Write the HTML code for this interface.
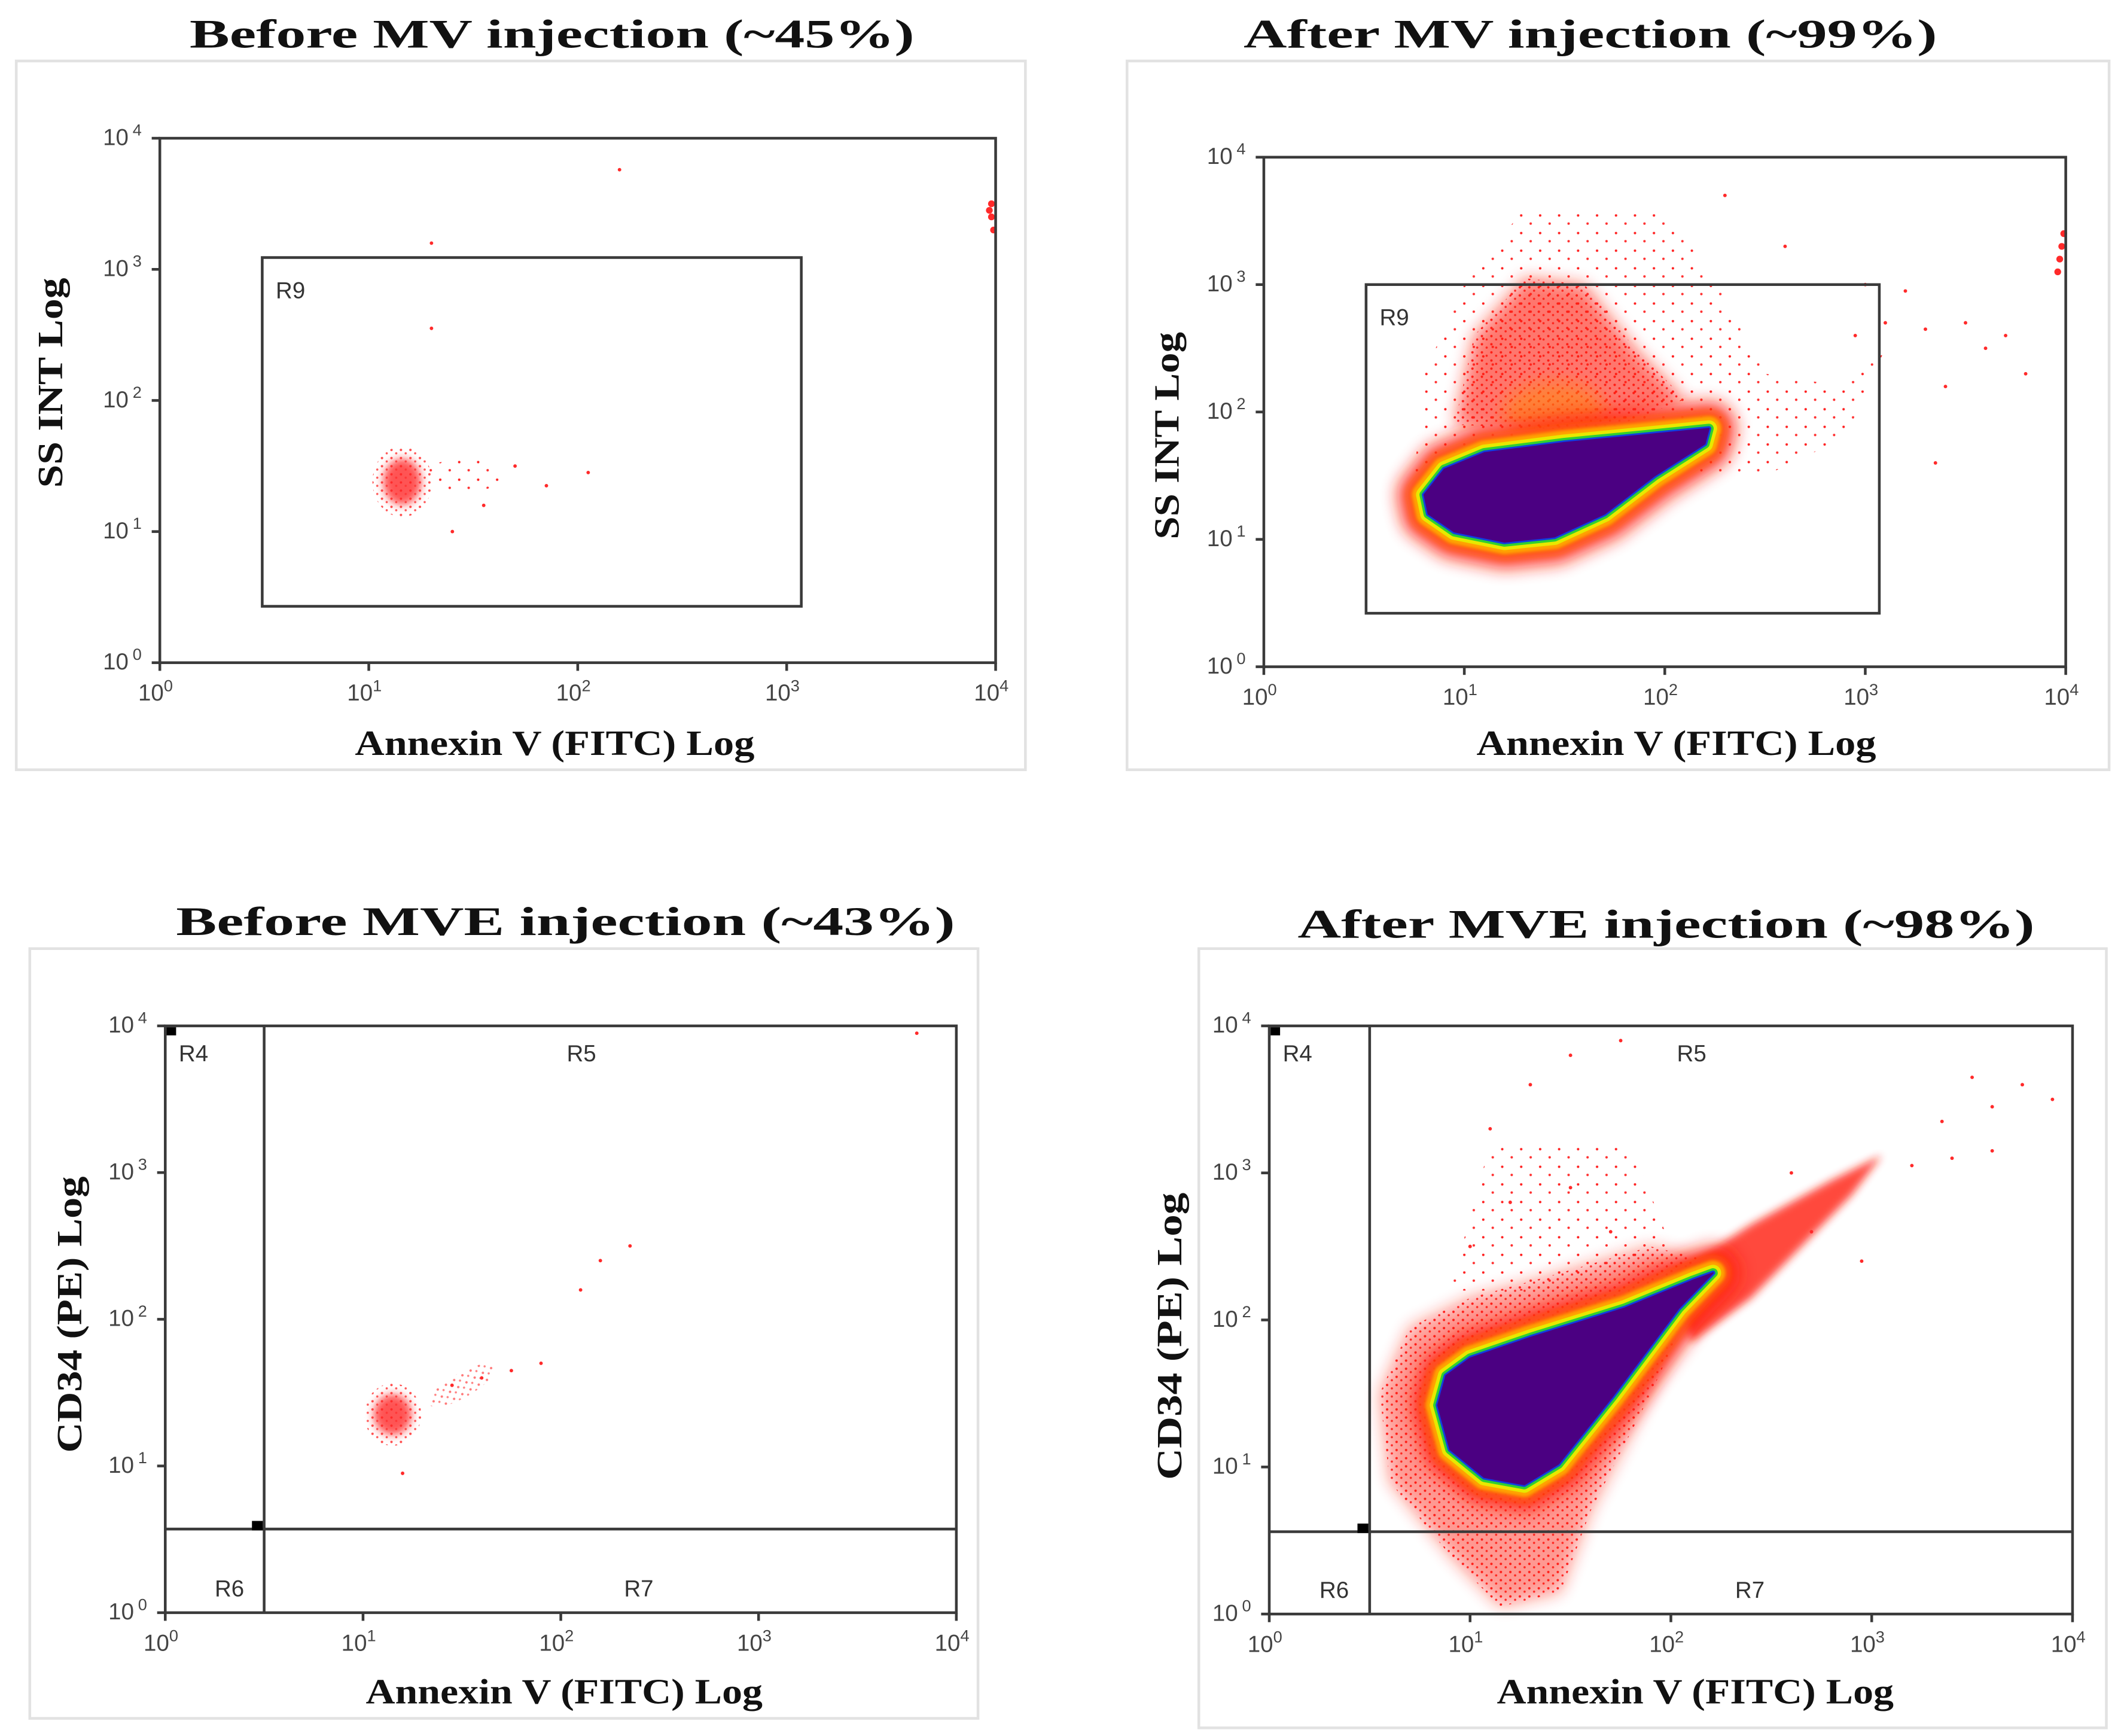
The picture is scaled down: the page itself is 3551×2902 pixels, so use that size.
<!DOCTYPE html>
<html><head><meta charset="utf-8"><style>
html,body{margin:0;padding:0;background:#fff;}
svg{display:block;}
.t{font-family:"Liberation Serif",serif;font-weight:bold;fill:#111;}
.k{font-family:"Liberation Sans",sans-serif;fill:#444;font-size:17px;}
.g{font-family:"Liberation Sans",sans-serif;fill:#333;font-size:17px;}
</style></head><body>
<svg id="fig" xmlns="http://www.w3.org/2000/svg" width="3551" height="2902" viewBox="0 0 1568 1281" preserveAspectRatio="none">
<defs>
<filter id="b3" x="-50%" y="-50%" width="200%" height="200%"><feGaussianBlur stdDeviation="3"/></filter>
<filter id="b6" x="-50%" y="-50%" width="200%" height="200%"><feGaussianBlur stdDeviation="6"/></filter>
<filter id="b1" x="-50%" y="-50%" width="200%" height="200%"><feGaussianBlur stdDeviation="1.2"/></filter>
<pattern id="dots" width="7" height="6" patternUnits="userSpaceOnUse"><circle cx="2" cy="2" r="0.9" fill="#ff2020"/><circle cx="5.5" cy="4.5" r="0.8" fill="#ff3030"/></pattern>
<pattern id="sparse" width="14" height="13" patternUnits="userSpaceOnUse"><circle cx="3" cy="3" r="0.9" fill="#ff2020"/><circle cx="10" cy="9" r="0.9" fill="#ff3030"/></pattern>
</defs>
</svg>
<script>
// ---- data (log10 decade coordinates) ----
const ticks=[0,1,2,3,4];
const titles=["Before MV injection (~45%)","After MV injection (~99%)","Before MVE injection  (~43%)","After MVE injection  (~98%)"];
const yTitles=["SS INT Log","SS INT Log","CD34 (PE) Log","CD34 (PE) Log"];
// panel 1
const p1Cluster=[1.16,1.38];
const p1Outliers=[[1.3,3.2],[2.2,3.76],[1.3,2.55],[1.7,1.5],[2.05,1.45],[1.55,1.2],[1.4,1.0],[1.85,1.35]];
const p1Edge=[[3.98,3.4],[3.98,3.5],[3.99,3.3],[3.97,3.45]];
// panel 2
const p2Purple=[[0.8,1.35],[0.9,1.55],[1.1,1.68],[1.5,1.76],[1.9,1.82],[2.22,1.87],[2.2,1.75],[1.95,1.5],[1.7,1.2],[1.45,1.02],[1.2,0.98],[0.95,1.06],[0.82,1.2]];
const p2Cloud=[[0.75,1.5],[0.8,2.3],[1.0,3.0],[1.3,3.6],[2.0,3.6],[2.3,2.9],[2.5,2.3],[2.9,2.2],[3.1,2.5],[2.9,1.8],[2.5,1.5],[1.5,1.5]];
const p2Core=[[0.95,1.9],[1.05,2.6],[1.3,3.05],[1.6,3.0],[1.85,2.5],[2.1,2.1],[1.7,1.85]];
const p2Outliers=[[2.95,2.6],[3.1,2.7],[3.3,2.65],[3.4,2.2],[3.6,2.5],[3.8,2.3],[3.5,2.7],[3.2,2.95],[2.6,3.3],[2.3,3.7],[3.7,2.6],[3.0,3.0],[3.35,1.6]];
const p2Edge=[[3.98,3.3],[3.97,3.2],[3.99,3.4],[3.96,3.1]];
// panel 3
const p3Cluster=[1.15,1.35];
const p3Outliers=[[1.6,1.6],[1.75,1.65],[1.45,1.55],[1.9,1.7],[1.2,0.95],[2.2,2.4],[2.35,2.5],[2.1,2.2],[3.8,3.95]];
// panel 4
const p4Purple=[[0.84,1.42],[0.88,1.62],[1.0,1.74],[1.3,1.88],[1.77,2.08],[2.11,2.27],[2.21,2.32],[2.04,2.08],[1.71,1.48],[1.44,1.02],[1.27,0.88],[1.07,0.93],[0.9,1.12]];
const p4Tail=[[2.0,2.3],[2.4,2.65],[2.8,2.95],[3.05,3.12],[2.9,2.85],[2.4,2.15],[2.1,1.85]];
const p4Cloud=[[0.55,1.5],[0.7,1.95],[1.0,2.15],[1.4,2.3],[1.9,2.5],[2.2,2.4],[1.9,1.5],[1.6,0.7],[1.45,0.15],[1.15,0.05],[0.9,0.4],[0.6,0.9]];
const p4Scatter=[[0.9,2.2],[1.1,3.2],[1.8,3.2],[2.0,2.5],[1.3,2.2]];
const p4Outliers=[[1.1,3.3],[1.3,3.6],[1.5,3.8],[1.75,3.9],[3.35,3.35],[3.6,3.45],[3.75,3.6],[3.9,3.5],[3.5,3.65],[3.2,3.05],[3.4,3.1],[2.7,2.6],[2.95,2.4],[2.6,3.0],[3.6,3.15],[1.2,2.8],[1.5,2.9],[1.7,2.6],[1.0,2.5]];

const NS="http://www.w3.org/2000/svg";
const fig=document.getElementById('fig');
function mk(tag,attrs,parent){const e=document.createElementNS(NS,tag);for(const k in attrs)e.setAttribute(k,attrs[k]);(parent||fig).appendChild(e);return e;}

const panels=[
 {frame:[12,45,745,523],ax:[118,735,489,102],title:[140,675,35],xt:[262,557,557],yt:[38,205,360]},
 {frame:[832,45,725,523],ax:[933,1525,492,116],title:[918,1430,35],xt:[1090,1385,557],yt:[862,245,398]},
 {frame:[22,700,700,568],ax:[122,706,1190,757],title:[130,705,690],xt:[270,563,1257],yt:[52,868,1072]},
 {frame:[885,700,670,575],ax:[937,1530,1191,757],title:[958,1502,692],xt:[1105,1398,1257],yt:[864,880,1092]}
];
function sx(p,v){const a=p.ax;return a[0]+(a[1]-a[0])*v/4;}
function sy(p,v){const a=p.ax;return a[2]-(a[2]-a[3])*v/4;}
function pts(p,arr){return arr.map(d=>sx(p,d[0]).toFixed(1)+','+sy(p,d[1]).toFixed(1)).join(' ');}
function dots(p,arr,g,r){arr.forEach(d=>{const c=mk('circle',{cx:sx(p,d[0]),cy:sy(p,d[1]),r:r||1.3,fill:'#ff2a2a'},g);

});}

panels.forEach((p,i)=>{
 const g=mk('g',{});
 
 
 const f=p.frame;
 const fr=mk('rect',{x:f[0],y:f[1],width:f[2],height:f[3],fill:'#fff',stroke:'#e2e2e2','stroke-width':2},g);
 
 
 const t=mk('text',{x:p.title[0],y:p.title[2],class:'t','font-size':30,textLength:p.title[1]-p.title[0],lengthAdjust:'spacingAndGlyphs'},g);
 t.textContent=titles[i];
 
 
 const xt=mk('text',{x:p.xt[0],y:p.xt[2],class:'t','font-size':26,textLength:p.xt[1]-p.xt[0],lengthAdjust:'spacingAndGlyphs'},g);
 xt.textContent="Annexin V (FITC) Log";
 
 
 const yt=mk('text',{x:0,y:0,class:'t','font-size':26,textLength:p.yt[2]-p.yt[1],lengthAdjust:'spacingAndGlyphs',transform:`translate(${p.yt[0]+8},${p.yt[2]}) rotate(-90)`},g);
 yt.textContent=yTitles[i];
 
 
 const data=mk('g',{},g);
 
 
 if(i===0){
  mk('ellipse',{cx:sx(p,p1Cluster[0]),cy:sy(p,p1Cluster[1]),rx:14,ry:17,fill:'#ff1a1a',opacity:0.75,filter:'url(#b3)'},data);
  mk('ellipse',{cx:sx(p,p1Cluster[0]),cy:sy(p,p1Cluster[1]),rx:22,ry:26,fill:'url(#dots)',opacity:0.8},data);
  mk('ellipse',{cx:sx(p,p1Cluster[0]+0.3),cy:sy(p,p1Cluster[1]+0.05),rx:30,ry:12,fill:'url(#sparse)'},data);
  dots(p,p1Outliers,data);
  dots(p,p1Edge,data,2.5);
 }
 if(i===2){
  mk('ellipse',{cx:sx(p,p3Cluster[0]),cy:sy(p,p3Cluster[1]),rx:14,ry:15,fill:'#ff1a1a',opacity:0.75,filter:'url(#b3)'},data);
  mk('ellipse',{cx:sx(p,p3Cluster[0]),cy:sy(p,p3Cluster[1]),rx:21,ry:23,fill:'url(#dots)',opacity:0.8},data);
  mk('ellipse',{cx:sx(p,p3Cluster[0]+0.35),cy:sy(p,p3Cluster[1]+0.2),rx:28,ry:9,fill:'url(#dots)',opacity:0.6,transform:`rotate(-30 ${sx(p,p3Cluster[0]+0.35)} ${sy(p,p3Cluster[1]+0.2)})`},data);
  dots(p,p3Outliers,data);
 }
 if(i===1||i===3){
  const cloud=i===1?p2Cloud:p4Cloud, purple=i===1?p2Purple:p4Purple;
  if(i===1){
   mk('polygon',{points:pts(p,cloud),fill:'url(#sparse)'},data);
   mk('polygon',{points:pts(p,p2Core),fill:'url(#dots)'},data);
   mk('polygon',{points:pts(p,p2Core),fill:'#ff1a10',opacity:0.6,filter:'url(#b6)'},data);
   mk('ellipse',{cx:sx(p,1.45),cy:sy(p,2.0),rx:38,ry:22,fill:'#ff8a10',opacity:0.55,filter:'url(#b6)'},data);
  } else {
   mk('polygon',{points:pts(p,p4Scatter),fill:'url(#sparse)'},data);
   mk('polygon',{points:pts(p,cloud),fill:'url(#dots)'},data);
   mk('polygon',{points:pts(p,cloud),fill:'#ff1a10',opacity:0.45,filter:'url(#b6)'},data);
   mk('polygon',{points:pts(p,p4Tail),fill:'#ff1a10',opacity:0.8,filter:'url(#b3)'},data);
  }
  const P=pts(p,purple);
  [[40,'#ff1a10',0.8,'url(#b6)'],[26,'#ff5a10',0.9,'url(#b3)'],[18,'#ffa500',1,'url(#b1)'],[12,'#e8e800',1,''],[7,'#30d030',1,''],[3.5,'#1040e0',1,'']].forEach(s=>{
   const a={points:P,fill:s[1],stroke:s[1],'stroke-width':s[0],'stroke-linejoin':'round',opacity:s[2]};if(s[3])a.filter=s[3];
   mk('polygon',a,data);});
  const pp=mk('polygon',{points:P,fill:'#4b0082',stroke:'#4b0082','stroke-width':1,'stroke-linejoin':'round'},data);
  
  
  dots(p,i===1?p2Outliers:p4Outliers,data);
  if(i===1){dots(p,p2Edge,data,2.5);}
 }
 const a=p.ax;
 const box=mk('rect',{x:a[0],y:a[3],width:a[1]-a[0],height:a[2]-a[3],fill:'none',stroke:'#3a3a3a','stroke-width':2},g);
 
 
 ticks.forEach(v=>{
  const X=sx(p,v),Y=sy(p,v);
  mk('line',{x1:X,x2:X,y1:a[2],y2:a[2]+6,stroke:'#3a3a3a','stroke-width':2},g);
  mk('line',{x1:a[0]-6,x2:a[0],y1:Y,y2:Y,stroke:'#3a3a3a','stroke-width':2},g);
  const lx=mk('text',{x:X-16,y:a[2]+28,class:'k'},g);
  lx.innerHTML='10<tspan dy="-7" font-size="12">'+v+'</tspan>';
  
  
  const ly=mk('text',{x:a[0]-42,y:Y+5,class:'k'},g);
  ly.innerHTML='10<tspan dy="-7" font-size="12" dx="3">'+v+'</tspan>';
  
  
 });
 function gl(txt,x,y){const e=mk('text',{x:x,y:y,class:'g'},g);e.textContent=txt;
  
  }
 if(i<2){
  const r9=i===0?[0.49,3.07,0.43,3.09]:[0.51,3.07,0.42,3.0];
  const R=mk('rect',{x:sx(p,r9[0]),y:sy(p,r9[3]),width:sx(p,r9[1])-sx(p,r9[0]),height:sy(p,r9[2])-sy(p,r9[3]),fill:'none',stroke:'#3a3a3a','stroke-width':2},g);
  
  
  gl('R9',sx(p,r9[0])+10,sy(p,r9[3])+30);
 } else {
  const gx=0.5,gy=i===2?0.57:0.56;
  const v=mk('line',{x1:sx(p,gx),x2:sx(p,gx),y1:a[3],y2:a[2],stroke:'#3a3a3a','stroke-width':2},g);
  
  
  const h=mk('line',{x1:a[0],x2:a[1],y1:sy(p,gy),y2:sy(p,gy),stroke:'#3a3a3a','stroke-width':2},g);
  
  
  mk('rect',{x:a[0]+1,y:a[3]+1,width:7,height:6,fill:'#000'},g);
  mk('rect',{x:sx(p,gx)-9,y:sy(p,gy)-6,width:8,height:7,fill:'#000'},g);
  gl('R4',a[0]+10,a[3]+26);
  gl('R5',sx(p,2.03),a[3]+26);
  gl('R6',sx(p,0.25),a[2]-12);
  gl('R7',sx(p,2.32),a[2]-12);
 }
});
</script>
</body></html>
